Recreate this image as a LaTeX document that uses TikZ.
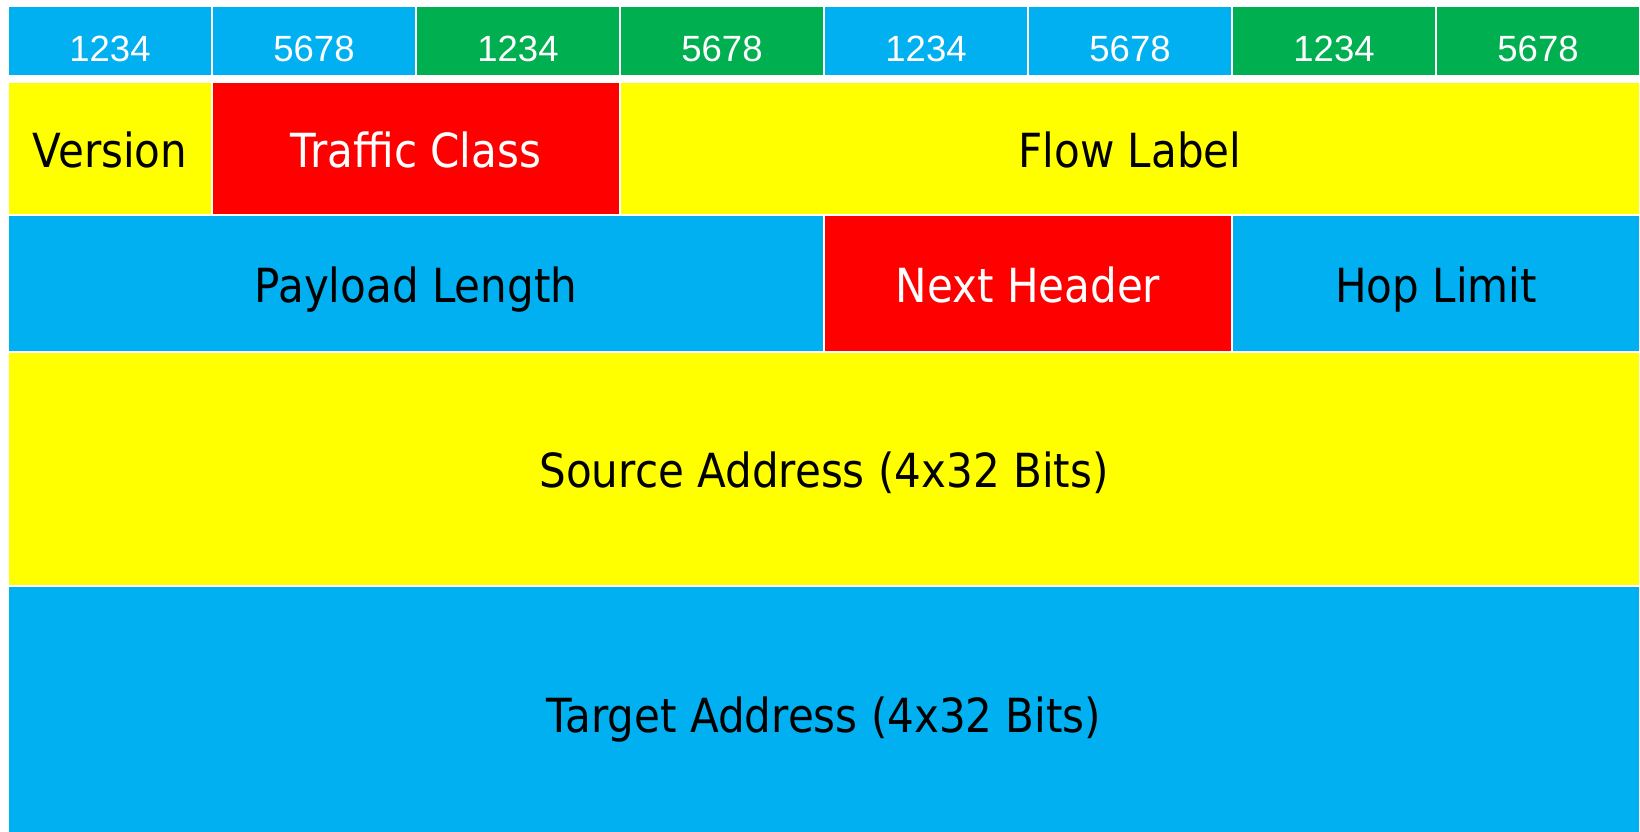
\documentclass[tikz,border=0pt]{standalone}
\usepackage{fontspec}
\setmainfont{Liberation Sans}
\newfontfamily\digitfont{Liberation Sans}
\newfontfamily\fieldfont{DejaVu Sans}[FakeStretch=0.895]
\definecolor{hdrBlue}{HTML}{00B0F0}
\definecolor{hdrGreen}{HTML}{00B050}
\definecolor{hdrYellow}{HTML}{FFFF00}
\definecolor{hdrRed}{HTML}{FF0000}
\tikzset{
  cell/.style={draw=white, line width=2pt, inner sep=0pt, outer sep=0pt,
               text depth=0pt, anchor=center},
  bitcell/.style={cell, minimum width=204pt, minimum height=70pt, text height=42pt,
                  text=white, font=\digitfont\fontsize{36.5}{40}\selectfont},
  field/.style={cell, font=\fieldfont\fontsize{47}{52}\selectfont},
  rowtwo/.style={field, minimum height=133pt, text height=37pt},
  rowthree/.style={field, minimum height=136.5pt, text height=38.5pt},
  rowfour/.style={field, minimum height=234.5pt, text height=36.5pt},
  rowfive/.style={field, minimum height=250pt, text height=42pt},
}
\begin{document}
\begin{tikzpicture}[x=1pt, y=-1pt]
  \useasboundingbox[fill=white] (0,0) rectangle (1640,832);
  \clip (0,0) rectangle (1640,832);

  % bit ruler
  \node[bitcell, fill=hdrBlue]  (b1) at (110,41)  {1234};
  \node[bitcell, fill=hdrBlue]  (b2) at (314,41)  {5678};
  \node[bitcell, fill=hdrGreen] (b3) at (518,41)  {1234};
  \node[bitcell, fill=hdrGreen] (b4) at (722,41)  {5678};
  \node[bitcell, fill=hdrBlue]  (b5) at (926,41)  {1234};
  \node[bitcell, fill=hdrBlue]  (b6) at (1130,41) {5678};
  \node[bitcell, fill=hdrGreen] (b7) at (1334,41) {1234};
  \node[bitcell, fill=hdrGreen] (b8) at (1538,41) {5678};

  % first header word
  \node[rowtwo, fill=hdrYellow, minimum width=204pt]  (version) at (110,148.5)  {Version};
  \node[rowtwo, fill=hdrRed, text=white, minimum width=408pt] (tclass) at (416,148.5) {Traffic Class};
  \node[rowtwo, fill=hdrYellow, minimum width=1020pt] (flow) at (1130,148.5) {Flow Label};

  % second header word
  \node[rowthree, fill=hdrBlue, minimum width=816pt] (payload) at (416,283.25) {Payload Length};
  \node[rowthree, fill=hdrRed, text=white, minimum width=408pt] (next) at (1028,283.25) {Next Header};
  \node[rowthree, fill=hdrBlue, minimum width=408pt] (hop) at (1436,283.25) {Hop Limit};

  % addresses
  \node[rowfour, fill=hdrYellow, minimum width=1632pt] (src) at (824,468.75) {Source Address (4x32 Bits)};
  \node[rowfive, fill=hdrBlue, minimum width=1632pt] (dst) at (824,711) {Target Address (4x32 Bits)};
\end{tikzpicture}
\end{document}
